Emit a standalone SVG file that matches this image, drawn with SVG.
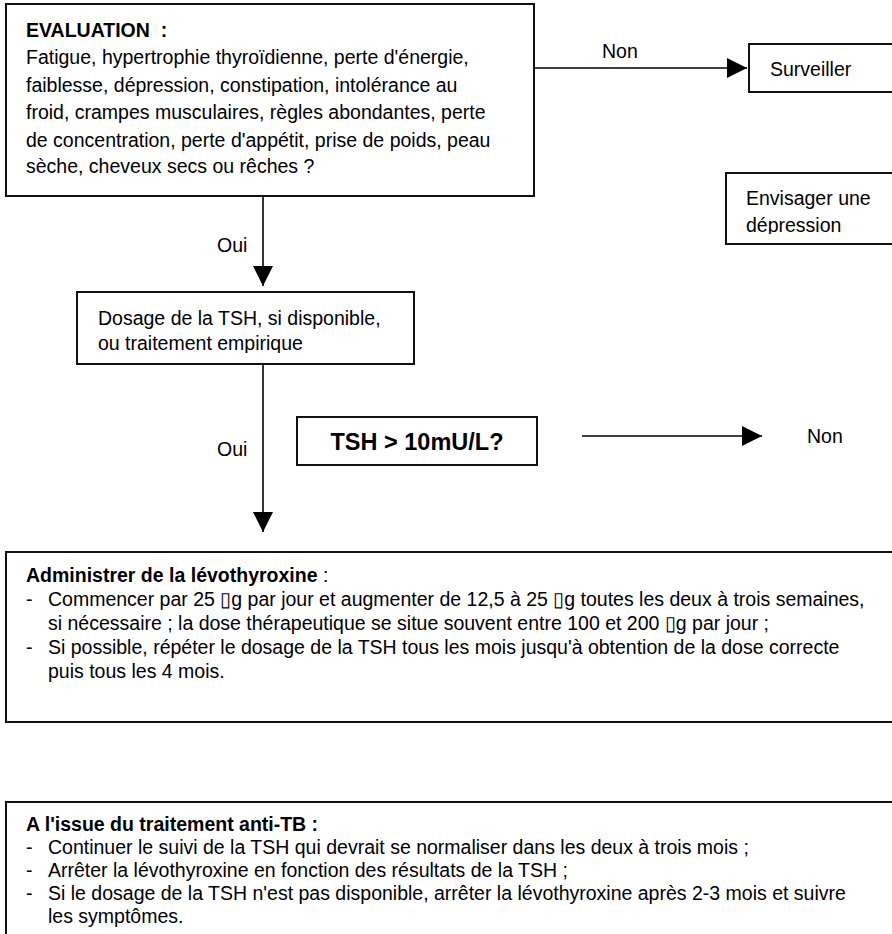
<svg xmlns="http://www.w3.org/2000/svg" width="892" height="934" viewBox="0 0 892 934">
  <style>
    text { font-family: "Liberation Sans", Arial, sans-serif; font-size: 19.5px; fill: #000; }
    .b { font-weight: bold; }
    .big { font-size: 23.5px; font-weight: bold; }
    .box { fill: #fff; stroke: #111; stroke-width: 2; }
    .wire { fill: none; stroke: #000; stroke-width: 1.6; marker-end: url(#head); }
  </style>
  <defs>
    <marker id="head" markerUnits="userSpaceOnUse" markerWidth="20" markerHeight="20" refX="20" refY="10" orient="auto">
      <path d="M0,0 L20,10 L0,20 z" fill="#000"/>
    </marker>
    <!-- Word-style text boxes clip their last line -->
    <clipPath id="clipDosage"><rect x="77" y="292" width="337" height="61"/></clipPath>
    <clipPath id="clipDepression"><rect x="726" y="173" width="180" height="61"/></clipPath>
  </defs>
  <rect width="892" height="934" fill="#fff"/>

  <g id="evaluation">
    <rect class="box" x="6" y="4" width="528" height="192"/>
    <text class="b" x="26" y="37" xml:space="preserve">EVALUATION  :</text>
    <text x="26" y="64">Fatigue, hypertrophie thyroïdienne, perte d'énergie,</text>
    <text x="26" y="91.5">faiblesse, dépression, constipation, intolérance au</text>
    <text x="26" y="119">froid, crampes musculaires, règles abondantes, perte</text>
    <text x="26" y="146.5">de concentration, perte d'appétit, prise de poids, peau</text>
    <text x="26" y="173">sèche, cheveux secs ou rêches ?</text>
  </g>

  <g id="surveiller">
    <rect class="box" x="749" y="44" width="160" height="48"/>
    <text x="770" y="76">Surveiller</text>
  </g>

  <g id="depression">
    <rect class="box" x="726" y="173" width="180" height="71"/>
    <g clip-path="url(#clipDepression)">
      <text x="746" y="205">Envisager une</text>
      <text x="746" y="232">dépression</text>
    </g>
  </g>

  <g id="dosage">
    <rect class="box" x="77" y="292" width="337" height="72"/>
    <g clip-path="url(#clipDosage)">
      <text x="98" y="325">Dosage de la TSH, si disponible,</text>
      <text x="98" y="350">ou traitement empirique</text>
    </g>
  </g>

  <g id="tsh">
    <rect class="box" x="297" y="417" width="240" height="48"/>
    <text class="big" x="417" y="450" text-anchor="middle">TSH &gt; 10mU/L?</text>
  </g>

  <g id="levothyroxine">
    <rect class="box" x="6" y="552" width="900" height="170"/>
    <text x="26" y="582"><tspan class="b">Administrer de la lévothyroxine</tspan> :</text>
    <text x="26" y="606">-</text>
    <text x="48" y="606">Commencer par 25 ▯g par jour et augmenter de 12,5 à 25 ▯g toutes les deux à trois semaines,</text>
    <text x="48" y="630">si nécessaire ; la dose thérapeutique se situe souvent entre 100 et 200 ▯g par jour ;</text>
    <text x="26" y="654">-</text>
    <text x="48" y="654">Si possible, répéter le dosage de la TSH tous les mois jusqu'à obtention de la dose correcte</text>
    <text x="48" y="678">puis tous les 4 mois.</text>
  </g>

  <g id="fin-traitement">
    <rect class="box" x="6" y="802" width="900" height="150"/>
    <text class="b" x="26" y="831">A l'issue du traitement anti-TB :</text>
    <text x="26" y="854">-</text>
    <text x="48" y="854">Continuer le suivi de la TSH qui devrait se normaliser dans les deux à trois mois ;</text>
    <text x="26" y="877">-</text>
    <text x="48" y="877">Arrêter la lévothyroxine en fonction des résultats de la TSH ;</text>
    <text x="26" y="900">-</text>
    <text x="48" y="900">Si le dosage de la TSH n'est pas disponible, arrêter la lévothyroxine après 2-3 mois et suivre</text>
    <text x="48" y="923">les symptômes.</text>
  </g>

  <g id="connectors">
    <line class="wire" x1="534" y1="68" x2="747" y2="68"/>
    <line class="wire" x1="263" y1="196" x2="263" y2="286"/>
    <line class="wire" x1="263" y1="364" x2="263" y2="532"/>
    <line class="wire" x1="582" y1="436" x2="762" y2="436"/>
    <text x="602" y="58">Non</text>
    <text x="217" y="252">Oui</text>
    <text x="217" y="456">Oui</text>
    <text x="807" y="443">Non</text>
  </g>
</svg>
